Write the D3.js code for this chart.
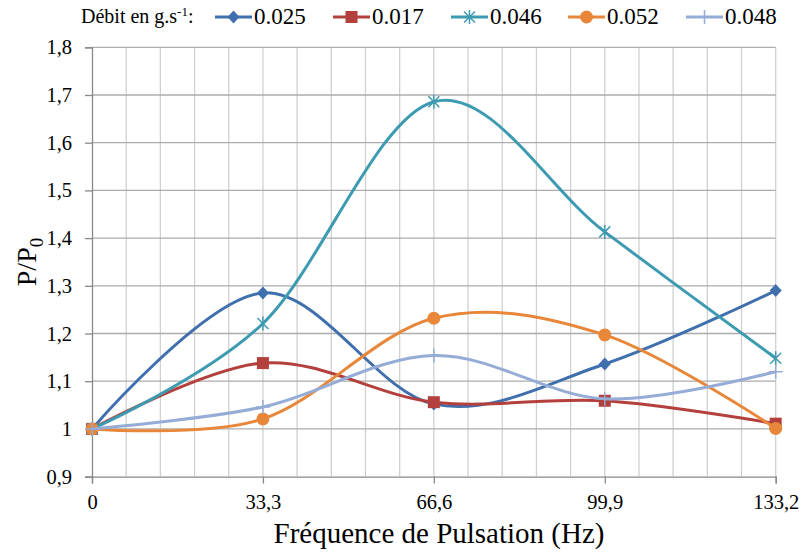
<!DOCTYPE html>
<html><head><meta charset="utf-8">
<script src="https://cdn.jsdelivr.net/npm/d3@7"></script>
<style>body{margin:0;background:#fff}svg{display:block}</style>
</head><body><svg id="c" width="803" height="557"></svg>
<script>
const categories = [0, 33.3, 66.6, 99.9, 133.2];
const tickLabels = ["0", "33,3", "66,6", "99,9", "133,2"];
const yTicks = [0.9, 1.0, 1.1, 1.2, 1.3, 1.4, 1.5, 1.6, 1.7, 1.8];
const seriesNames = ["0.025", "0.017", "0.046", "0.052", "0.048"];
const s025 = [1, 1.285, 1.052, 1.136, 1.29];
const s017 = [1, 1.138, 1.056, 1.059, 1.011];
const s046 = [1, 1.221, 1.686, 1.413, 1.148];
const s052 = [1, 1.021, 1.232, 1.197, 1.001];
const s048 = [1, 1.046, 1.154, 1.063, 1.12];
const seriesValues = [s025, s017, s046, s052, s048];
const colors = ["#3f6fad", "#b3403d", "#3d9bb1", "#e8873a", "#94acd6"];
const markers = ["diamond", "square", "asterisk", "circle", "plus"];
const FONT = "'Liberation Serif', 'DejaVu Serif', serif";

const svg = d3.select("#c").attr("font-family", FONT);
const L = 92, R = 775.7, T = 47.3, B = 476.6;
const x = d3.scaleLinear().domain([0, 133.2]).range([L, R]);
const y = d3.scaleLinear().domain([0.9, 1.8]).range([B, T]);

const minor = d3.range(0, 21).map(i => i * 6.66);
svg.append("g").selectAll("line").data(minor.slice(1)).join("line")
  .attr("x1", d => x(d)).attr("x2", d => x(d)).attr("y1", T).attr("y2", B)
  .attr("stroke", "#d0d0d0").attr("stroke-width", 1.3);
svg.append("g").selectAll("line").data(yTicks.slice(1)).join("line")
  .attr("x1", L).attr("x2", R).attr("y1", d => y(d)).attr("y2", d => y(d))
  .attr("stroke", "#acacac").attr("stroke-width", 1.3);

const yAxis = d3.axisLeft(y).tickValues(yTicks).tickSize(7).tickPadding(13)
  .tickFormat(d => d3.format(".1f")(d).replace(".", ",").replace(",0", ""));
const gy = svg.append("g").attr("transform", `translate(${L},0)`).call(yAxis).attr("font-family", FONT);
gy.selectAll("text").style("font-size", "20.5px").style("font-family", FONT).attr("fill", "#000");
gy.select(".domain").attr("stroke", "#888").attr("stroke-width", 1.3);
gy.selectAll(".tick line").attr("stroke", "#888").attr("stroke-width", 1.3);

const xAxis = d3.axisBottom(x).tickValues(categories).tickSize(7).tickPadding(11)
  .tickFormat((d, i) => tickLabels[i]);
const gx = svg.append("g").attr("transform", `translate(0,${B})`).call(xAxis).attr("font-family", FONT);
gx.selectAll("text").style("font-size", "20.5px").style("font-family", FONT).attr("fill", "#000");
gx.select(".domain").attr("stroke", "#888").attr("stroke-width", 1.3);
gx.selectAll(".tick line").attr("stroke", "#888").attr("stroke-width", 1.3);

svg.append("text").attr("x", 439).attr("y", 543).attr("text-anchor", "middle")
  .style("font-family", FONT).style("font-size", "29px").text("Fréquence de Pulsation (Hz)");
const yt = svg.append("text").attr("transform", "translate(36,262) rotate(-90)")
  .attr("text-anchor", "middle").style("font-family", FONT).style("font-size", "28px");
yt.append("tspan").text("P/P");
yt.append("tspan").attr("dy", 7).style("font-size", "19px").text("0");

const line = d3.line().x((d, i) => x(categories[i])).y(d => y(d)).curve(d3.curveCardinal.tension(0));

function drawMarker(g, type, cx, cy, color) {
  if (type === "diamond") {
    g.append("path").attr("d", `M${cx},${cy-6.5}L${cx+6},${cy}L${cx},${cy+6.5}L${cx-6},${cy}Z`).attr("fill", color);
  } else if (type === "square") {
    g.append("rect").attr("x", cx-6).attr("y", cy-6).attr("width", 12).attr("height", 12).attr("fill", color);
  } else if (type === "circle") {
    g.append("circle").attr("cx", cx).attr("cy", cy).attr("r", 6.5).attr("fill", color);
  } else if (type === "asterisk") {
    g.append("path").attr("d", `M${cx-5.5},${cy-5.5}L${cx+5.5},${cy+5.5}M${cx-5.5},${cy+5.5}L${cx+5.5},${cy-5.5}M${cx},${cy-7}L${cx},${cy+7}`)
      .attr("stroke", color).attr("stroke-width", 1.5).attr("fill", "none");
  } else if (type === "plus") {
    g.append("path").attr("d", `M${cx-7},${cy}L${cx+7},${cy}M${cx},${cy-7}L${cx},${cy+7}`)
      .attr("stroke", color).attr("stroke-width", 1.5).attr("fill", "none");
  }
}

seriesValues.forEach((vals, k) => {
  const g = svg.append("g");
  g.append("path").attr("d", line(vals)).attr("fill", "none").attr("stroke", colors[k]).attr("stroke-width", 3);
  vals.forEach((v, i) => drawMarker(g, markers[k], x(categories[i]), y(v), colors[k]));
});

const lt = svg.append("text").attr("x", 81).attr("y", 23).style("font-family", FONT).style("font-size", "20px");
lt.append("tspan").text("Débit en g.s");
lt.append("tspan").attr("dy", -7).style("font-size", "13px").text("-1");
lt.append("tspan").attr("dy", 7).text(":");
const legX = [215, 333, 451, 568, 686];
seriesNames.forEach((n, k) => {
  const g = svg.append("g");
  g.append("line").attr("x1", legX[k]).attr("x2", legX[k] + 37).attr("y1", 17).attr("y2", 17)
    .attr("stroke", colors[k]).attr("stroke-width", 3);
  drawMarker(g, markers[k], legX[k] + 18.5, 17, colors[k]);
  g.append("text").attr("x", legX[k] + 39).attr("y", 24).style("font-family", FONT).style("font-size", "23px").text(n);
});
</script></body></html>
